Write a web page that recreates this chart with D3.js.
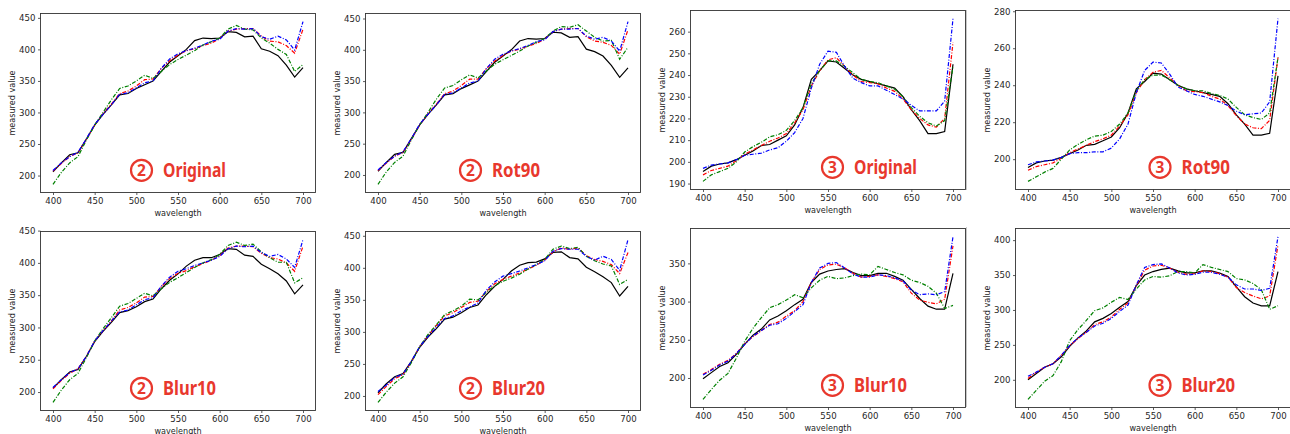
<!DOCTYPE html>
<html>
<head>
<meta charset="utf-8">
<script src="https://cdn.jsdelivr.net/npm/d3@7"></script>
<style>
  body { margin: 0; background: #fff; }
  svg { display: block; }
  .tick text { font-family: "DejaVu Sans", sans-serif; font-size: 8.6px; fill: #262626; }
  .axlabel { font-family: "DejaVu Sans", sans-serif; font-size: 8.1px; fill: #262626; }
  .tag { font-family: "Noto Sans", "Open Sans", sans-serif; font-weight: bold; fill: #e8382d; }
</style>
</head>
<body>
<svg id="chart" width="1290" height="434"></svg>
<script>
// wavelengths on the x axis
const wavelengths = d3.range(400, 701, 10);

// sample 2 — reference (black) is the same for Original and Rot90
const s2RefBlack = [206,220,233,236,258,280,297,312,328,330,338,344,350,365,380,390,400,414,418,417,418,428,427,420,421,401,397,390,375,356,371];
const s2OrigRed   = [207,219,230,236,257,280,298,313,330,334,342,352,353,370,382,391,398,401,406,410,417,429,432,433,433,421,413,412,406,394,432];
const s2OrigBlue  = [208,220,230,237,258,281,297,312,329,331,339,347,350,370,385,393,398,402,407,413,416,429,433,432,433,420,416,421,415,399,444];
const s2OrigGreen = [186,205,220,230,256,280,300,320,338,342,350,359,354,365,376,384,391,398,407,412,418,432,438,432,431,418,410,400,392,365,376];

const s2RotRed   = [207,219,230,236,257,280,298,313,330,334,343,353,353,370,382,391,398,401,406,410,417,429,433,434,434,421,414,412,407,393,432];
const s2RotBlue  = [208,220,230,237,258,281,297,312,329,331,339,347,350,370,385,393,398,402,407,413,416,429,433,433,434,422,417,420,414,398,445];
const s2RotGreen = [185,205,220,230,256,280,300,321,339,343,352,360,355,366,377,384,391,398,406,412,418,430,437,436,440,430,420,414,415,385,404];

const s2B10Black = [206,219,231,235,255,278,294,308,323,326,332,340,344,360,373,383,395,404,408,408,413,422,421,412,410,398,391,383,372,352,366];
const s2B10Red   = [205,218,229,236,255,279,295,310,327,331,338,347,348,363,376,384,388,394,399,404,411,423,426,426,425,415,408,406,400,387,426];
const s2B10Blue  = [207,219,230,236,255,279,295,310,324,327,335,343,346,364,378,387,391,396,400,404,410,422,426,425,426,416,410,413,406,393,436];
const s2B10Green = [184,203,219,229,253,279,298,315,333,337,345,353,349,360,370,377,385,393,400,405,413,427,432,427,429,417,408,401,401,369,377];

const s2B20Black = [205,219,230,235,254,276,292,305,320,323,330,338,342,358,371,382,395,404,408,409,414,424,425,416,414,401,394,386,377,356,371];
const s2B20Red   = [202,215,227,233,253,277,294,310,325,330,338,346,348,363,375,382,387,392,398,404,412,425,431,429,431,419,413,410,405,391,424];
const s2B20Blue  = [207,217,229,234,254,277,293,307,321,325,333,339,345,365,378,387,391,395,400,405,411,426,430,429,429,418,412,418,413,396,444];
const s2B20Green = [190,206,220,230,252,277,296,311,327,333,340,351,350,362,372,379,384,390,398,405,413,429,434,430,432,418,411,406,403,374,382];

// sample 3 — reference (black) is the same for Original and Rot90
const s3RefBlack = [195.5,198,199,199.5,201,203,205,207.5,208,210,212,217,225,238,242,246.5,246,243,240,238,237,236,235,234,230,224,219,213,213,214,245];
const s3OrigRed   = [194,196,197,198,200.5,203.5,205.5,207.5,209.5,211,213,218,224,235,242,247,248,244,240,237,236.5,236,234,232.5,229,224,220,217,216,220,255];
const s3OrigBlue  = [197,198.5,199,199.5,201,203,203.5,204,205.5,206.5,209.5,213.5,220,234,245,251,250.5,244,238.5,236.5,235,235,233,231,229,226,223.5,223.5,223.5,228,266];
const s3OrigGreen = [191,194,195.5,197,200,204.5,207,209,211.5,212.5,214.5,219,225,236,242,246.5,246.5,244,241,238,237,236.5,235,233.5,230,225,221,218,216.5,219,244];

const s3RotRed   = [194,196,197,198,200.5,203.5,205.5,207.5,209.5,211,213,218,224,236,243,247,248,244,240,237,236.5,236,234,232.5,229,223.5,219,217,216.5,221,255];
const s3RotBlue  = [197,198.5,199,199.5,201,203,203.5,203.5,204,204,206,211,219,236,248,252.5,252,246,239,237,235,234,232.5,231,229,226,224,224.5,225,231,276];
const s3RotGreen = [188,190.5,193,195,200,205,208,210.5,212.5,213,215,219,225,237,243,245.5,245.5,243,240,238,237,237,235.5,234.5,232.5,228,224,222.5,221.5,225,255];

const s3B10Black = [199,207,215,220,231,244,256,264,276,281,288,296,303,325,336,340,342,343,338,334,334,337,337,333,328,316,304,294,290,290,337];
const s3B10Red   = [205,211,218,223,232,245,254,262,270,273,281,288,300,325,342,348,349,344,337,332,333,335,333,330,326,311,302,299,297,303,373];
const s3B10Blue  = [204,210,217,222,232,244,255,262,269,271,278,287,296,325,344,350,351,344,336,332,332,335,334,331,327,315,309,310,309,313,385];
const s3B10Green = [172,185,197,206,226,248,265,279,292,296,302,309,305,318,328,333,330,331,334,336,335,346,342,338,335,328,325,320,311,291,295];

const s3B20Black = [200,209,218,223,233,248,260,270,283,288,295,304,312,335,350,355,358,360,356,353,353,356,356,353,348,333,319,310,306,306,355];
const s3B20Red   = [202,211,218,223,235,249,259,268,279,283,290,301,310,335,357,363,364,360,354,351,352,356,355,352,347,332,325,320,316,320,393];
const s3B20Blue  = [205,211,218,223,235,249,260,268,277,281,288,298,307,336,361,365,366,360,353,350,351,354,354,351,347,336,330,330,328,331,405];
const s3B20Green = [172,185,198,206,226,256,272,285,299,303,311,318,315,330,343,348,347,349,355,355,353,365,361,358,355,345,343,338,329,301,306];

// y tick values for each panel
const ticks2 = [200, 250, 300, 350, 400, 450];
const ticks3Orig = [190, 200, 210, 220, 230, 240, 250, 260];
const ticks3Rot = [200, 220, 240, 260, 280];
const ticks3B10 = [200, 250, 300, 350];
const ticks3B20 = [200, 250, 300, 350, 400];
const xTicks = [400, 450, 500, 550, 600, 650, 700];

// panel layout: frame position, tag x offset and tag width (px)
const panels = [
  {num: "2", tag: "Original", x: 40.5, y: 13.5, series: [s2RefBlack, s2OrigRed, s2OrigBlue, s2OrigGreen], yt: ticks2, tx: 101, tw: 63},
  {num: "2", tag: "Rot90",    x: 365.5, y: 13.5, series: [s2RefBlack, s2RotRed, s2RotBlue, s2RotGreen], yt: ticks2, tx: 105, tw: 48},
  {num: "3", tag: "Original", x: 690.5, y: 10.5, series: [s3RefBlack, s3OrigRed, s3OrigBlue, s3OrigGreen], yt: ticks3Orig, tx: 142, tw: 63},
  {num: "3", tag: "Rot90",    x: 1015.5, y: 10.5, series: [s3RefBlack, s3RotRed, s3RotBlue, s3RotGreen], yt: ticks3Rot, tx: 144.5, tw: 48.5},
  {num: "2", tag: "Blur10",   x: 40.5, y: 231.5, series: [s2B10Black, s2B10Red, s2B10Blue, s2B10Green], yt: ticks2, tx: 101, tw: 53},
  {num: "2", tag: "Blur20",   x: 365.5, y: 231.5, series: [s2B20Black, s2B20Red, s2B20Blue, s2B20Green], yt: ticks2, tx: 105, tw: 53},
  {num: "3", tag: "Blur10",   x: 690.5, y: 228.5, series: [s3B10Black, s3B10Red, s3B10Blue, s3B10Green], yt: ticks3B10, tx: 142, tw: 53},
  {num: "3", tag: "Blur20",   x: 1015.5, y: 228.5, series: [s3B20Black, s3B20Red, s3B20Blue, s3B20Green], yt: ticks3B20, tx: 144.5, tw: 53.5}
];

const W = 275, H = 179;
const lineStyles = [
  {color: "#000000", dash: null},
  {color: "#ff0000", dash: "4,1.6,1,1.6"},
  {color: "#0000ff", dash: "4,1.6,1,1.6"},
  {color: "#008000", dash: "4,1.6,1,1.6"}
];

const svg = d3.select("#chart");

// thin grey separators at the left of the 4th column (as in the screenshot)
svg.append("line").attr("x1", 966.5).attr("x2", 966.5).attr("y1", 10).attr("y2", 190).attr("stroke", "#c8c8c8");
svg.append("line").attr("x1", 966.5).attr("x2", 966.5).attr("y1", 227).attr("y2", 407).attr("stroke", "#c8c8c8");

panels.forEach(function(p) {
  const g = svg.append("g").attr("transform", `translate(${p.x},${p.y})`);

  // matplotlib style 5% margins
  const all = p.series.flat();
  const lo = d3.min(all), hi = d3.max(all), pad = (hi - lo) * 0.05;
  const x = d3.scaleLinear().domain([385, 715]).range([0, W]);
  const y = d3.scaleLinear().domain([lo - pad, hi + pad]).range([H, 0]);

  const line = d3.line().x((d, i) => x(wavelengths[i])).y(d => y(d));
  // draw order: black, red, green, blue
  [0, 1, 3, 2].forEach(function(k) {
    g.append("path")
      .datum(p.series[k])
      .attr("d", line)
      .attr("fill", "none")
      .attr("stroke", lineStyles[k].color)
      .attr("stroke-width", 1.2)
      .attr("stroke-dasharray", lineStyles[k].dash);
  });

  // frame
  g.append("rect").attr("width", W).attr("height", H)
    .attr("fill", "none").attr("stroke", "#333").attr("stroke-width", 0.9);

  const xa = g.append("g").attr("transform", `translate(0,${H})`)
    .call(d3.axisBottom(x).tickValues(xTicks).tickSize(2.5).tickPadding(3));
  const ya = g.append("g")
    .call(d3.axisLeft(y).tickValues(p.yt).tickSize(2.5).tickPadding(2.5));
  [xa, ya].forEach(a => {
    a.select(".domain").remove();
    a.selectAll(".tick line").attr("stroke", "#333").attr("stroke-width", 0.8);
  });

  g.append("text").attr("class", "axlabel")
    .attr("x", W / 2).attr("y", H + 23).attr("text-anchor", "middle")
    .text("wavelength");
  g.append("text").attr("class", "axlabel")
    .attr("transform", `translate(-26,${H / 2}) rotate(-90)`)
    .attr("text-anchor", "middle")
    .text("measured value");

  // red circled-number tag
  const cy = 156.8;
  g.append("circle").attr("cx", p.tx).attr("cy", cy).attr("r", 10.5)
    .attr("fill", "none").attr("stroke", "#e8382d").attr("stroke-width", 2.2);
  g.append("text").attr("class", "tag")
    .attr("x", p.tx).attr("y", cy + 5.5).attr("text-anchor", "middle")
    .attr("font-size", 15.5).text(p.num);
  g.append("text").attr("class", "tag")
    .attr("x", p.tx + 21.5).attr("y", cy + 6.6)
    .attr("font-size", 19)
    .attr("textLength", p.tw).attr("lengthAdjust", "spacingAndGlyphs")
    .text(p.tag);
});
</script>
</body>
</html>
